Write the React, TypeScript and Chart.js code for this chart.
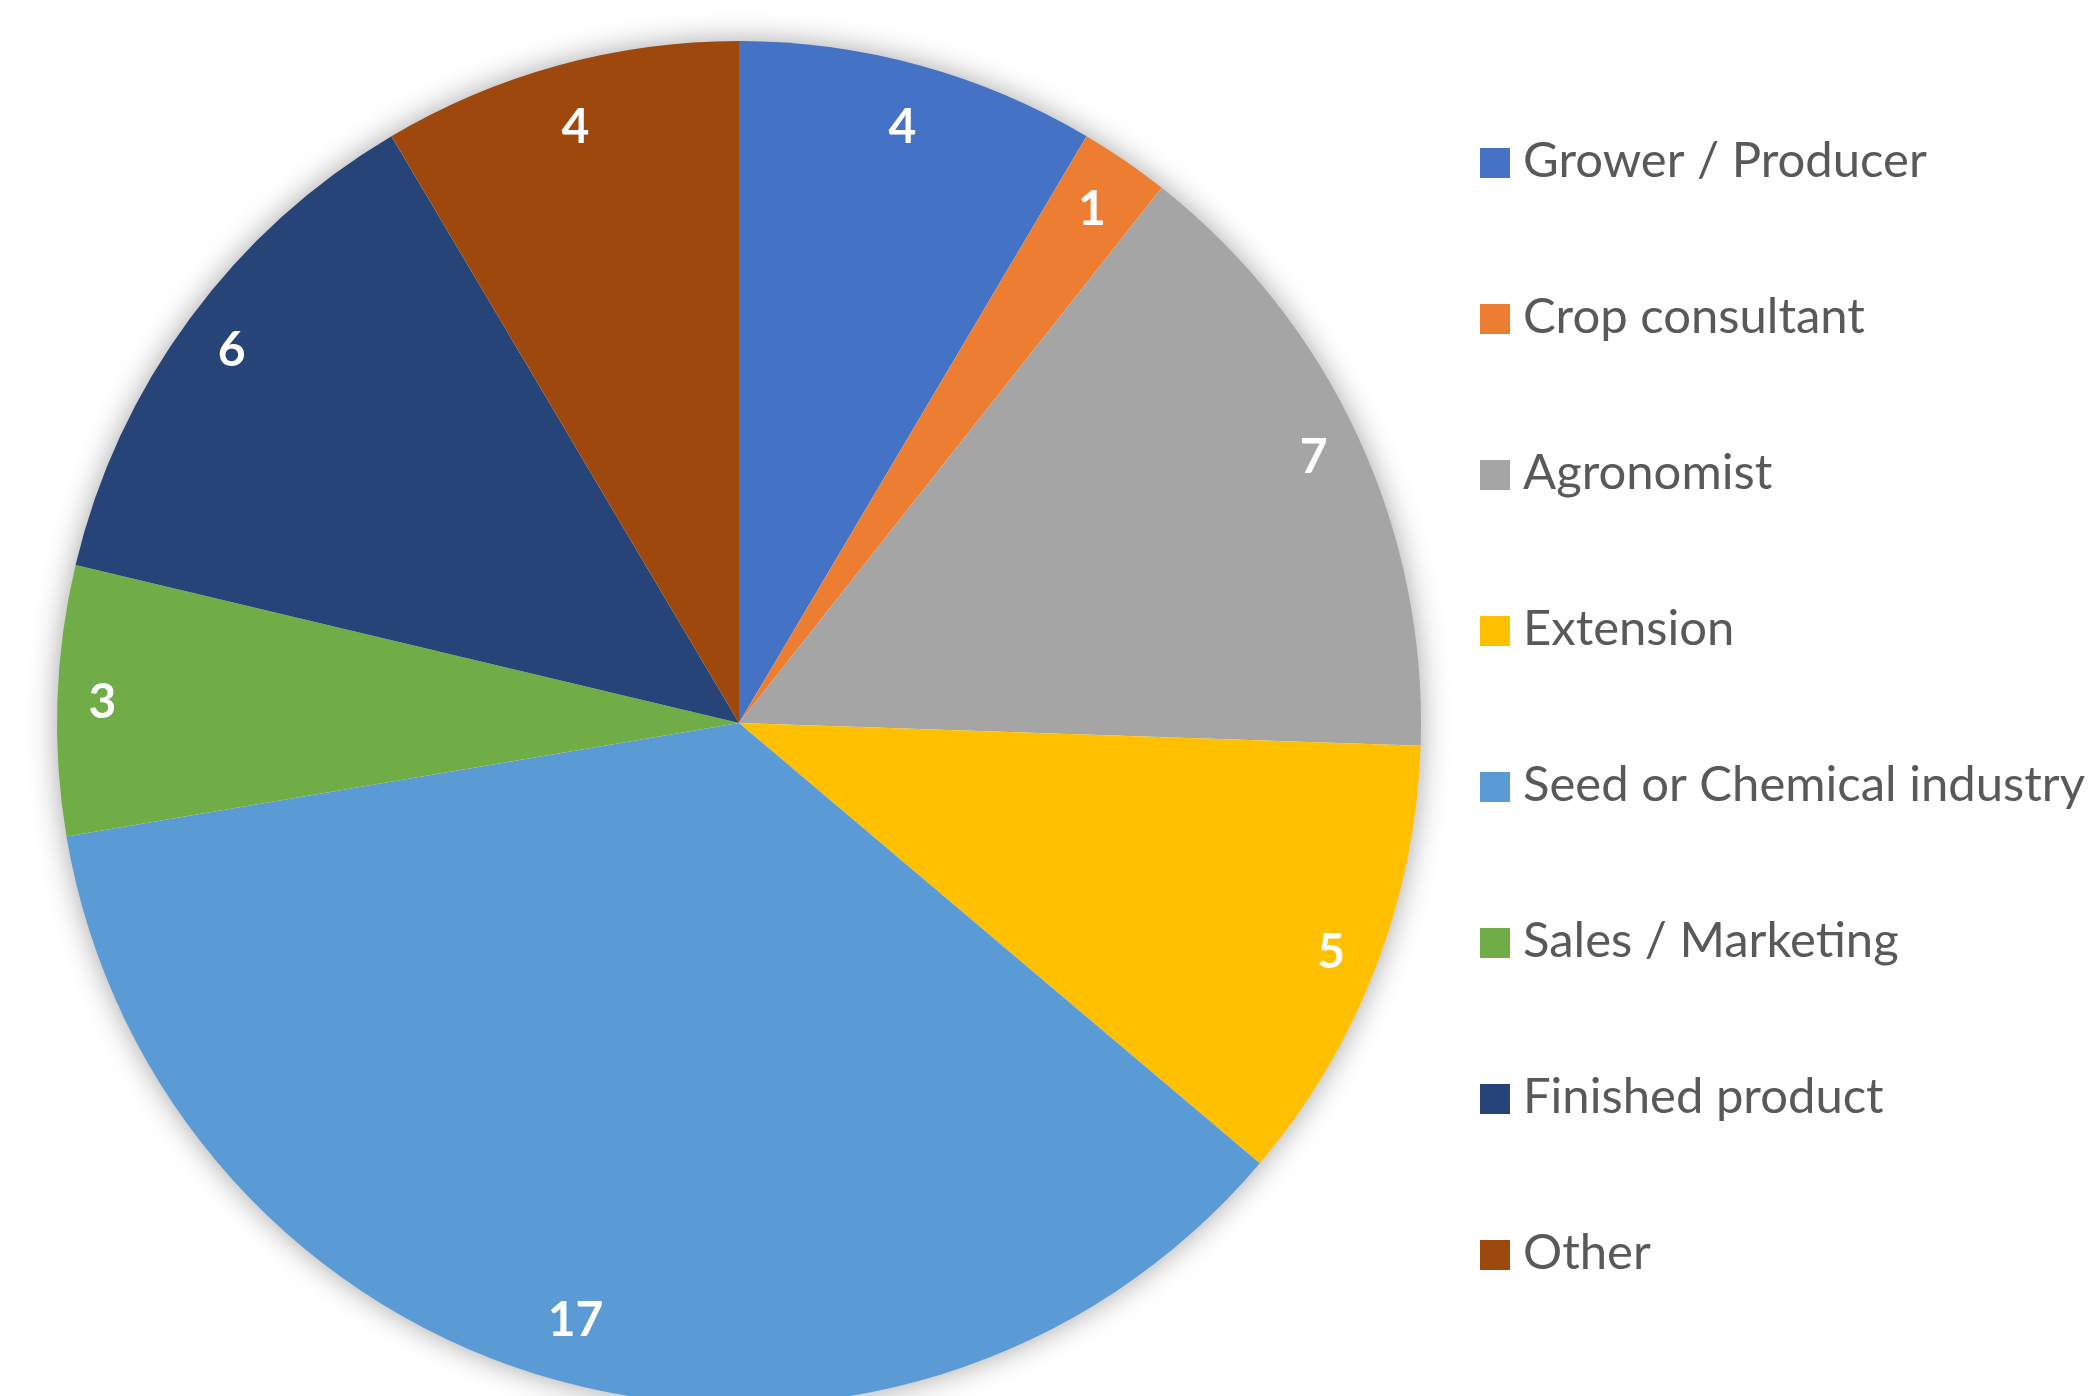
import React, { useEffect, useRef } from "react";
import { Chart, registerables } from "chart.js";

Chart.register(...registerables);

const categories = [
  "Grower / Producer",
  "Crop consultant",
  "Agronomist",
  "Extension",
  "Seed or Chemical industry",
  "Sales / Marketing",
  "Finished product",
  "Other",
];
const counts = [4, 1, 7, 5, 17, 3, 6, 4];
const sliceColors = [
  "#4472C4",
  "#ED7D31",
  "#A5A5A5",
  "#FFC000",
  "#5B9BD5",
  "#70AD47",
  "#264478",
  "#9E480E",
];

const LEGEND_FONT = '49px Lato, "Open Sans", sans-serif';
const LABEL_FONT = 'bold 48px Lato, "Open Sans", sans-serif';

const shadowPlugin = {
  id: "pieShadow",
  beforeDatasetsDraw(chart: any) {
    const arc = chart.getDatasetMeta(0).data[0];
    if (!arc) return;
    const { x, y, outerRadius } = arc.getProps(["x", "y", "outerRadius"], true);
    const ctx = chart.ctx;
    ctx.save();
    ctx.shadowColor = "rgba(0,0,0,0.38)";
    ctx.shadowBlur = 30;
    ctx.beginPath();
    ctx.arc(x, y, outerRadius - 1, 0, Math.PI * 2);
    ctx.fillStyle = "#ffffff";
    ctx.fill();
    ctx.restore();
  },
};

const valueLabelPlugin = {
  id: "valueLabels",
  afterDatasetsDraw(chart: any) {
    const ctx = chart.ctx;
    const meta = chart.getDatasetMeta(0);
    const values = chart.data.datasets[0].data;
    ctx.save();
    ctx.fillStyle = "#ffffff";
    ctx.font = LABEL_FONT;
    ctx.textAlign = "center";
    ctx.textBaseline = "middle";
    meta.data.forEach((arc: any, i: number) => {
      const { x, y, startAngle, endAngle, outerRadius } = arc.getProps(
        ["x", "y", "startAngle", "endAngle", "outerRadius"],
        true
      );
      const mid = (startAngle + endAngle) / 2;
      const s = Math.sin(mid);
      const gap = 45 + 19.6 * s * s;
      const r = outerRadius - gap;
      ctx.fillText(String(values[i]), x + Math.cos(mid) * r, y + s * r + 1);
    });
    ctx.restore();
  },
};

const sideLegendPlugin = {
  id: "sideLegend",
  afterDraw(chart: any) {
    const ctx = chart.ctx;
    const labels = chart.data.labels as string[];
    const colors = chart.data.datasets[0].backgroundColor as string[];
    const boxX = 1480;
    const boxSize = 30;
    const firstCenter = 163;
    const step = 156;
    ctx.save();
    ctx.font = LEGEND_FONT;
    ctx.textAlign = "left";
    ctx.textBaseline = "alphabetic";
    labels.forEach((lab, i) => {
      const cy = firstCenter + i * step;
      ctx.fillStyle = colors[i];
      ctx.fillRect(boxX, cy - boxSize / 2, boxSize, boxSize);
      ctx.fillStyle = "#595959";
      ctx.fillText(lab, boxX + 43, cy + 14);
    });
    ctx.restore();
  },
};

export default function App() {
  const canvasRef = useRef<HTMLCanvasElement | null>(null);

  useEffect(() => {
    const canvas = canvasRef.current;
    if (!canvas) return;
    const chart = new Chart(canvas, {
      type: "pie",
      data: {
        labels: categories,
        datasets: [
          {
            data: counts,
            backgroundColor: sliceColors,
            borderWidth: 0,
          },
        ],
      },
      options: {
        responsive: false,
        maintainAspectRatio: false,
        animation: false,
        devicePixelRatio: 1,
        layout: { padding: { left: 57, top: 41, right: 669, bottom: 15 } },
        plugins: {
          legend: { display: false },
          tooltip: { enabled: false },
        },
      },
      plugins: [shadowPlugin, valueLabelPlugin, sideLegendPlugin],
    });
    return () => chart.destroy();
  }, []);

  return (
    <div
      style={{
        position: "fixed",
        left: 0,
        top: 0,
        width: 2090,
        height: 1396,
        overflow: "hidden",
        background: "#ffffff",
      }}
    >
      <canvas
        ref={canvasRef}
        width={2090}
        height={1420}
        style={{ width: 2090, height: 1420, display: "block" }}
      />
    </div>
  );
}
